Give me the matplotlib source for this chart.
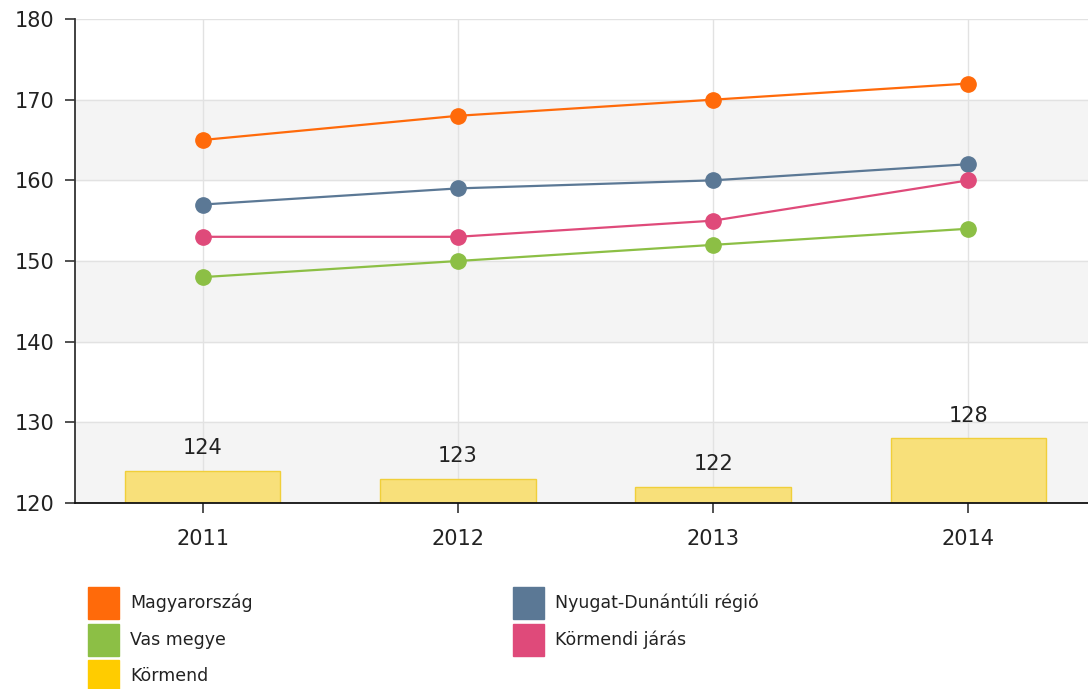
import matplotlib.pyplot as plt
from matplotlib.patches import Rectangle

years = ['2011', '2012', '2013', '2014']
magyarorszag = [165, 168, 170, 172]
nyugat = [157, 159, 160, 162]
kormendi_jaras = [153, 153, 155, 160]
vas_megye = [148, 150, 152, 154]
kormend = [124, 123, 122, 128]

line_series = [
    ('Magyarország', magyarorszag, '#ff6a0a'),
    ('Nyugat-Dunántúli régió', nyugat, '#5b7895'),
    ('Körmendi járás', kormendi_jaras, '#df4a7a'),
    ('Vas megye', vas_megye, '#8cbf45'),
]

W, H = 1088, 689
fig = plt.figure(figsize=(W / 100, H / 100), dpi=100)
ax = fig.add_axes([75 / W, 1 - 503 / H, (1096 - 75) / W, (503 - 19) / H])

x = list(range(len(years)))
ax.set_xlim(-0.5, 3.5)
ax.set_ylim(120, 180)

# alternating bands
for lo in (120, 140, 160):
    ax.axhspan(lo, lo + 10, color='#f4f4f4', zorder=0)
for y in range(120, 181, 10):
    ax.axhline(y, color='#e2e2e2', lw=1, zorder=0.5)
for xi in x:
    ax.axvline(xi, color='#e2e2e2', lw=1, zorder=0.5)

# bars
ax.bar(x, [v - 120 for v in kormend], bottom=120, width=0.61,
       color='#f8e07a', edgecolor='#f0cf3a', lw=1, zorder=2)
for xi, v in zip(x, kormend):
    ax.text(xi, v + 1.6, str(v), ha='center', va='bottom', fontsize=15,
            color='#222222', zorder=5)

for name, vals, col in line_series:
    ax.plot(x, vals, color=col, lw=1.6, zorder=3)
    ax.plot(x, vals, 'o', color=col, ms=11, zorder=4)

ax.set_xticks(x)
ax.set_xticklabels(years)
ax.set_yticks(range(120, 181, 10))
for s in ('top', 'right'):
    ax.spines[s].set_visible(False)
ax.spines['left'].set_color('#333333')
ax.spines['bottom'].set_color('#111111')
ax.spines['left'].set_linewidth(1.3)
ax.spines['bottom'].set_linewidth(1.3)
ax.tick_params(axis='y', length=7, width=1.2, color='#333333', labelsize=15,
               labelcolor='#222222', pad=8)
ax.tick_params(axis='x', length=7, width=1.2, color='#333333', labelsize=15,
               labelcolor='#222222', pad=12)

# legend
legend_items = [
    ('Magyarország', '#ff6a0a', 88, 603),
    ('Vas megye', '#8cbf45', 88, 640),
    ('Körmend', '#ffcc00', 88, 676),
    ('Nyugat-Dunántúli régió', '#5b7895', 513, 603),
    ('Körmendi járás', '#df4a7a', 513, 640),
]
for label, col, lx, ly in legend_items:
    fig.add_artist(Rectangle((lx / W, 1 - (ly + 16) / H), 31 / W, 32 / H,
                             transform=fig.transFigure, color=col))
    fig.text((lx + 42) / W, 1 - ly / H, label, fontsize=12.5, va='center',
             ha='left', color='#222222')

plt.savefig('out.png', dpi=100)
